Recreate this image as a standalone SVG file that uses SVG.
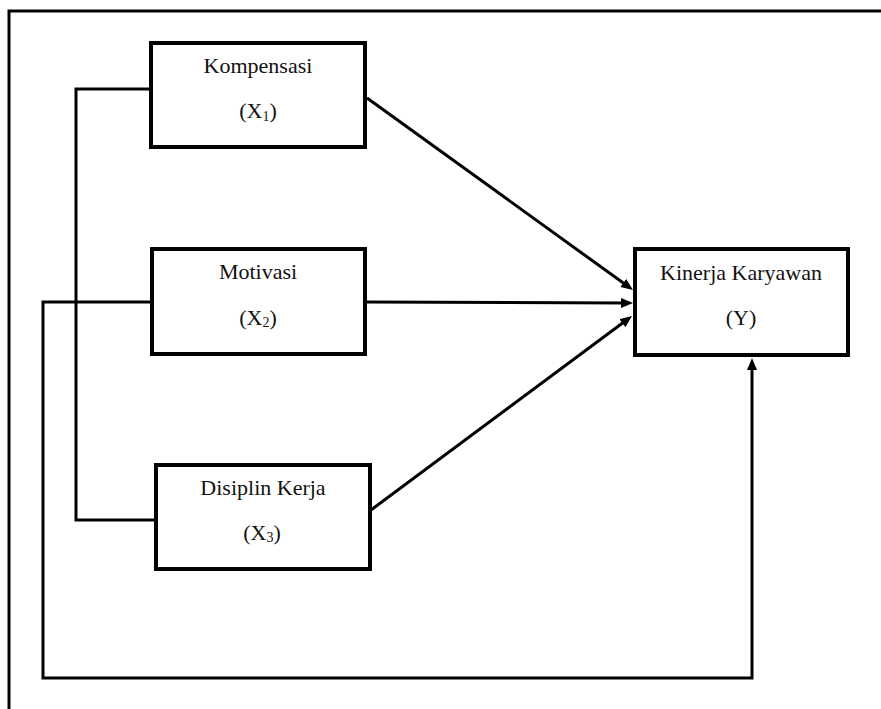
<svg xmlns="http://www.w3.org/2000/svg" width="881" height="709" viewBox="0 0 881 709">
<style>
.box{fill:#fff;stroke:#000;stroke-width:4}
.ln{fill:none;stroke:#000;stroke-width:3}
.t{font-family:"Liberation Serif","Times New Roman",serif;font-size:22px;fill:#111;text-anchor:middle}
.sub{font-size:14px}
</style>
<defs>
<marker id="ah" markerUnits="userSpaceOnUse" markerWidth="13" markerHeight="11" refX="4" refY="5" orient="auto">
<path d="M0,0 L12,5 L0,10 z" fill="#000"/>
</marker>
</defs>
<rect width="881" height="709" fill="#fff"/>
<path class="ln" d="M9,720 L9,11 L890,11"/>
<g id="connectors">
<path class="ln" d="M150,89 L76,89 L76,520 L155,520"/>
<path class="ln" d="M151,302 L43,302 L43,678 L752,678 L752,366" marker-end="url(#ah)"/>
<path class="ln" d="M367,98 L626.5,285.3" marker-end="url(#ah)"/>
<path class="ln" d="M365,302 L625,303" marker-end="url(#ah)"/>
<path class="ln" d="M371,510 L625.6,320.8" marker-end="url(#ah)"/>
</g>
<g id="kompensasi">
<rect class="box" x="151" y="43" width="214" height="104"/>
<text class="t" x="258" y="73">Kompensasi</text>
<text class="t" x="258" y="118">(X<tspan class="sub" dy="3">1</tspan><tspan dy="-3">)</tspan></text>
</g>
<g id="motivasi">
<rect class="box" x="152" y="249" width="213" height="105"/>
<text class="t" x="258" y="279">Motivasi</text>
<text class="t" x="258" y="325">(X<tspan class="sub" dy="2">2</tspan><tspan dy="-2">)</tspan></text>
</g>
<g id="disiplin">
<rect class="box" x="156" y="465" width="214" height="104"/>
<text class="t" x="263" y="495">Disiplin Kerja</text>
<text class="t" x="262" y="540">(X<tspan class="sub" dy="2">3</tspan><tspan dy="-2">)</tspan></text>
</g>
<g id="kinerja">
<rect class="box" x="635" y="249" width="213" height="106"/>
<text class="t" x="741" y="280">Kinerja Karyawan</text>
<text class="t" x="741" y="325">(Y)</text>
</g>
</svg>
